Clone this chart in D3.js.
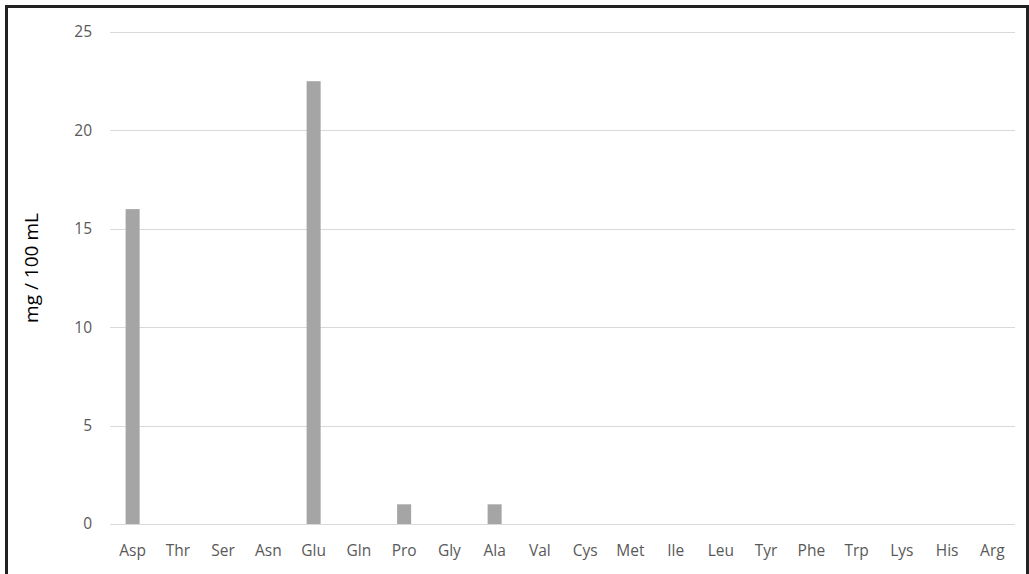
<!DOCTYPE html>
<html>
<head>
<meta charset="utf-8">
<script src="https://cdn.jsdelivr.net/npm/d3@7"></script>
<style>
  html, body { margin: 0; padding: 0; background: #fff; }
  svg { display: block; }
</style>
</head>
<body>
<svg id="chart" width="1029" height="574"></svg>
<script>
// Amino acid content
const categories = ["Asp", "Thr", "Ser", "Asn", "Glu", "Gln", "Pro", "Gly", "Ala", "Val",
                    "Cys", "Met", "Ile", "Leu", "Tyr", "Phe", "Trp", "Lys", "His", "Arg"];
const values = [16, 0, 0, 0, 22.5, 0, 1, 0, 1, 0, 0, 0, 0, 0, 0, 0, 0, 0, 0, 0];
const yTicks = [0, 5, 10, 15, 20, 25];
const yTitle = "mg / 100 mL";

const svg = d3.select("#chart");
const plot = { left: 110, right: 1015, top: 32, bottom: 524 };
const font = "'Open Sans', 'Liberation Sans', sans-serif";

// outer frame (bottom edge runs past the canvas)
svg.append("rect")
  .attr("x", 6.5).attr("y", 6.5)
  .attr("width", 1021).attr("height", 620)
  .attr("fill", "#fff")
  .attr("stroke", "#222").attr("stroke-width", 3);

const x = d3.scaleBand().domain(categories).range([plot.left, plot.right]).paddingInner(0.69).paddingOuter(0.345);
const y = d3.scaleLinear().domain([0, 25]).range([plot.bottom, plot.top]);

// horizontal gridlines
svg.append("g")
  .selectAll("line")
  .data(yTicks)
  .join("line")
  .attr("x1", plot.left).attr("x2", plot.right)
  .attr("y1", d => Math.round(y(d)) + 0.5).attr("y2", d => Math.round(y(d)) + 0.5)
  .attr("stroke", "#d9d9d9").attr("stroke-width", 1.2);

// bars
svg.append("g")
  .selectAll("rect")
  .data(categories.map((c, i) => ({ c, v: values[i] })).filter(d => d.v > 0))
  .join("rect")
  .attr("x", d => x(d.c))
  .attr("width", x.bandwidth())
  .attr("y", d => y(d.v))
  .attr("height", d => y(0) - y(d.v))
  .attr("fill", "#a5a5a5");

// y axis labels
const yAxis = d3.axisLeft(y).tickValues(yTicks).tickSize(0).tickPadding(0);
const gy = svg.append("g").attr("transform", `translate(${plot.left - 18},0)`).call(yAxis);
gy.select(".domain").remove();
gy.selectAll("text")
  .attr("font-family", font).attr("font-size", 15.5).attr("fill", "#595959");

// x axis labels
const xAxis = d3.axisBottom(x).tickSize(0).tickPadding(0);
const gx = svg.append("g").attr("transform", `translate(0,${plot.bottom + 21})`).call(xAxis);
gx.select(".domain").remove();
gx.selectAll("text")
  .attr("font-family", font).attr("font-size", 15.5).attr("fill", "#595959");

// y axis title
svg.append("text")
  .attr("transform", `translate(38,268) rotate(-90)`)
  .attr("text-anchor", "middle")
  .attr("font-family", font).attr("font-size", 19)
  .attr("fill", "#000")
  .text(yTitle);
</script>
</body>
</html>
